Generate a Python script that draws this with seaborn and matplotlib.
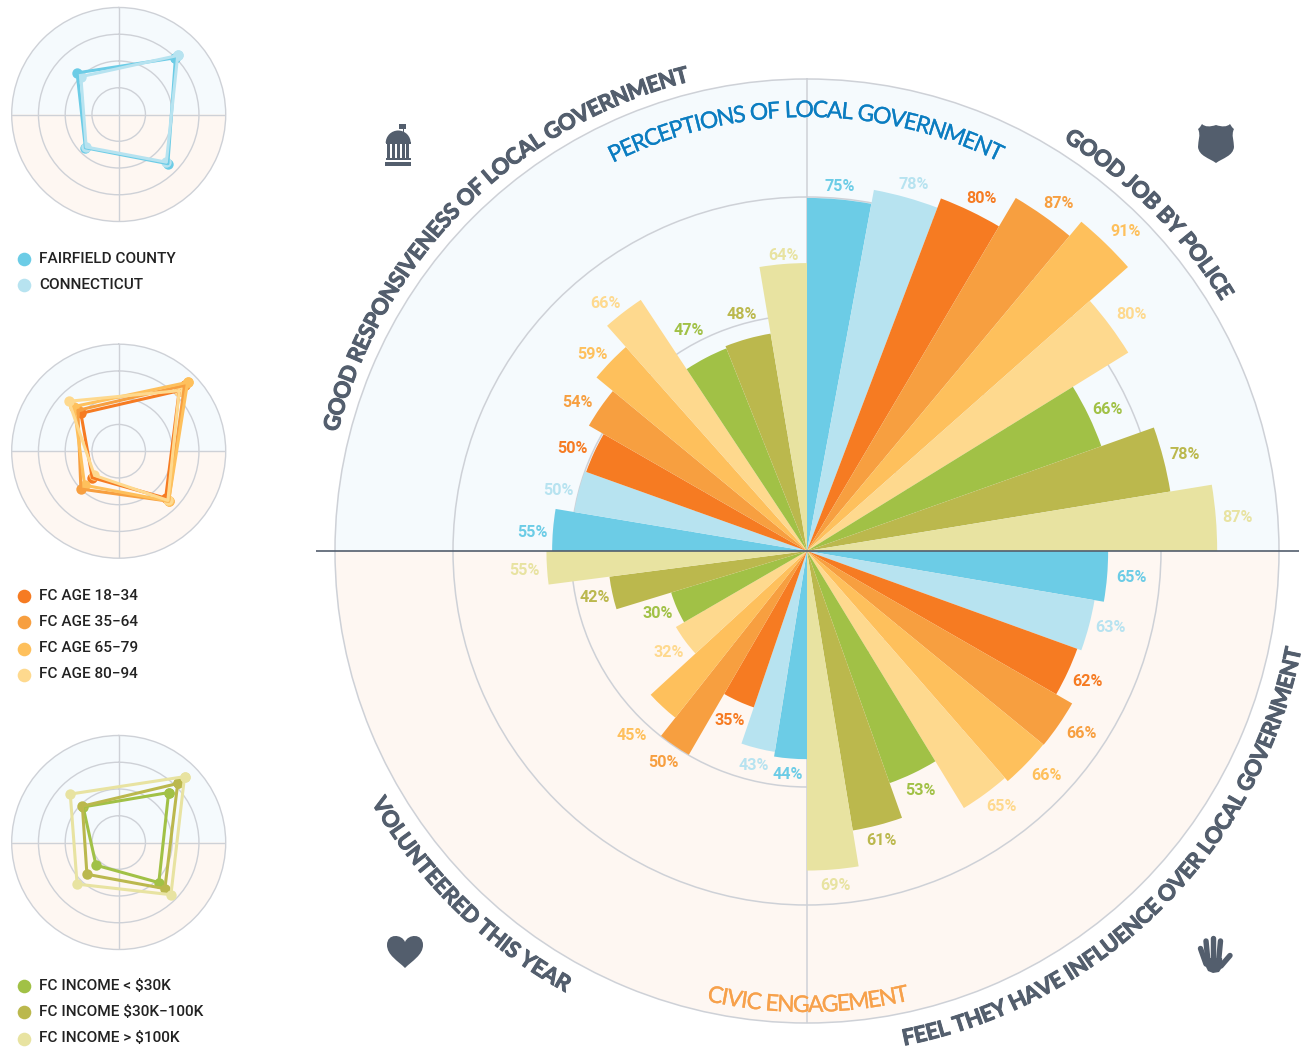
import numpy as np
import pandas as pd
import matplotlib
matplotlib.use("Agg")
import matplotlib.pyplot as plt
import matplotlib.patheffects as pe
from matplotlib.font_manager import FontProperties
from matplotlib.patches import Polygon, PathPatch, Rectangle, Wedge
from matplotlib.path import Path
import seaborn as sns

# ---------- data ----------
SERIES = ["Fairfield County", "Connecticut", "FC Age 18-34", "FC Age 35-64", "FC Age 65-79",
          "FC Age 80-94", "FC Income < $30K", "FC Income $30K-100K", "FC Income > $100K"]
COLORS = ["#6CCCE6", "#B7E3F0", "#F67B22", "#F79F40", "#FEC05C", "#FED98E", "#A1C146", "#BBB84D", "#E8E3A1"]
# printed percentages
POLICE = [75, 78, 80, 87, 91, 80, 66, 78, 87]
INFLUENCE = [65, 63, 62, 66, 66, 65, 53, 61, 69]
VOLUNTEER = [44, 43, 35, 50, 45, 32, 30, 42, 55]
RESPONSIVE = [55, 50, 50, 54, 59, 66, 47, 48, 64]
# bar lengths as drawn in the picture
POLICE_BAR = [74.8, 77.8, 79.9, 86.9, 90.8, 80, 66.2, 78, 86.9]
INFLUENCE_BAR = [63.8, 61.8, 60.9, 64.8, 64.7, 63.8, 52.2, 60, 67.7]
VOLUNTEER_BAR = [44.1, 43.1, 35, 49.9, 45, 32.1, 30.1, 42.2, 55.2]
RESPONSIVE_BAR = [54, 50, 49.7, 53.3, 57.8, 63.8, 46.2, 46.7, 61]
# wedge boundaries inside each quadrant, in degrees clockwise (layout)
POLICE_EDGES = [0, 10.5, 20.8, 30.6, 39.8, 48.5, 58.3, 70.4, 80.7, 90]
INFLUENCE_EDGES = [0, 9.7, 19.9, 29.9, 39.3, 48.9, 58.6, 70.4, 80.7, 90]
VOLUNTEER_EDGES = [0, 9.1, 18.8, 30.1, 38.3, 47.4, 59.9, 73, 82.6, 90]
RESPONSIVE_EDGES = [0, 9.5, 19.7, 29.9, 39.5, 48.4, 56.5, 68.3, 80.5, 90]
# small label nudges in pixels, right and down (layout)
POLICE_NUDGE = [(-1, 2), (3, 3), (3, 3), (4, 3), (6, 2), (5, 1), (-1, 3), (0, 1), (-1, 2)]
INFLUENCE_NUDGE = [(2, -1), (0, -4), (0, 0), (5, -3), (6, -2), (5, -3), (0, 1), (0, -1), (1, 1)]
VOLUNTEER_NUDGE = [(-2, 1), (0, 1), (-2, 3), (-1, 1), (-17, 14), (1, -1), (1, -3), (4, 0), (0, 1)]
RESPONSIVE_NUDGE = [(2, 4), (1, 5), (-2, 5), (-5, 7), (-4, 7), (-6, 7), (-9, -11), (-2, -8), (2, 6)]
LEGEND_1 = ["FAIRFIELD COUNTY", "CONNECTICUT"]
LEGEND_2 = ["FC AGE 18\u221234", "FC AGE 35\u221264", "FC AGE 65\u221279", "FC AGE 80\u221294"]
LEGEND_3 = ["FC INCOME < $30K", "FC INCOME $30K\u2212100K", "FC INCOME > $100K"]

DARK = "#535E6D"
RING = "#CED1D7"
BG_TOP = "#F5FAFD"
BG_BOT = "#FEF7F2"
W, H = 1307, 1049
ARC_FONT = ["Lato", "Roboto"]

sns.set_theme(style="white")
plt.rcParams["font.family"] = ["Roboto", "DejaVu Sans"]
fig = plt.figure(figsize=(W / 100, H / 100), dpi=100, facecolor="white")


def polar_axes(cx, cy, r):
    ax = fig.add_axes([(cx - r) / W, (H - cy - r) / H, 2 * r / W, 2 * r / H], projection="polar")
    ax.set_theta_zero_location("N")
    ax.set_theta_direction(-1)
    ax.set_facecolor("none")
    ax.set_axisbelow(True)
    ax.bar([0], [100], width=np.pi, color=BG_TOP, zorder=0.2, linewidth=0)
    ax.bar([np.pi], [100], width=np.pi, color=BG_BOT, zorder=0.2, linewidth=0)
    return ax


def finish_axes(ax, thetas, lw):
    ax.set_ylim(0, 100)
    ax.set_xticks(np.deg2rad(thetas))
    ax.set_yticks([25, 50, 75])
    ax.set_xticklabels([])
    ax.set_yticklabels([])
    ax.tick_params(length=0)
    ax.grid(True, color=RING, linewidth=lw)
    ax.spines["polar"].set_color(RING)
    ax.spines["polar"].set_linewidth(lw)
    ax.set_xlabel("")
    ax.set_ylabel("")


# ---------- main rose ----------
main = polar_axes(807, 551, 472)
quadrants = [(VOLUNTEER, VOLUNTEER_BAR, VOLUNTEER_EDGES, VOLUNTEER_NUDGE, 180),
             (INFLUENCE, INFLUENCE_BAR, INFLUENCE_EDGES, INFLUENCE_NUDGE, 90),
             (POLICE, POLICE_BAR, POLICE_EDGES, POLICE_NUDGE, 0),
             (RESPONSIVE, RESPONSIVE_BAR, RESPONSIVE_EDGES, RESPONSIVE_NUDGE, 270)]
for printed, drawn, edges, nudges, start in quadrants:
    for i, (p, d, c, (nx, ny)) in enumerate(zip(printed, drawn, COLORS, nudges)):
        t = np.deg2rad(start + (edges[i] + edges[i + 1]) / 2)
        wid = np.deg2rad(edges[i + 1] - edges[i])
        df = pd.DataFrame({"theta": [t], "value": [d]})
        sns.barplot(data=df, x="theta", y="value", color=c, native_scale=True, width=wid,
                    orient="x", errorbar=None, saturation=1, linewidth=0, ax=main)
        off = 3.0 + 1.8 * abs(np.sin(t))
        main.annotate(f"{p}%", (t, d + off), xytext=(nx, -ny), textcoords="offset pixels",
                      color=c, ha="center", va="center", fontsize=11.6, fontweight="bold")
finish_axes(main, [0, 180], 1.1)

# ---------- small radars ----------
RADAR_ANGLES = [45, 135, 225, 315]


def radar(cy, idx):
    ax = polar_axes(118.7, cy, 107)
    for i in idx:
        vals = [POLICE[i], INFLUENCE[i], VOLUNTEER[i], RESPONSIVE[i]]
        sub = pd.DataFrame({"theta": np.deg2rad(RADAR_ANGLES + RADAR_ANGLES[:1]),
                            "value": vals + vals[:1]})
        sns.lineplot(data=sub, x="theta", y="value", color=COLORS[i], sort=False, estimator=None,
                     linewidth=2.2, legend=False, ax=ax)
        sns.scatterplot(data=sub, x="theta", y="value", color=COLORS[i], s=56, linewidth=0,
                        legend=False, ax=ax, clip_on=False)
    finish_axes(ax, [0, 90, 180, 270], 1.0)
    return ax


radar(114.5, [0, 1])
radar(451.2, [2, 3, 4, 5])
radar(842.5, [6, 7, 8])

# ---------- overlay in pixels ----------
ov = fig.add_axes([0, 0, 1, 1], zorder=10)
ov.set_xlim(0, W)
ov.set_ylim(H, 0)
ov.axis("off")
ov.patch.set_alpha(0)
ov.plot([316, 1299], [551, 551], color=DARK, lw=1.2, solid_capstyle="butt")

renderer = fig.canvas.get_renderer()


def arc_text(text, a0, a1, r, size, color, weight="bold", stroke=0.7):
    fp = FontProperties(family=ARC_FONT, size=size, weight=weight)
    width = lambda s: renderer.get_text_width_height_descent(s, fp, False)[0]
    total = width(text)
    for k, ch in enumerate(text):
        if ch == " ":
            continue
        mid = width(text[:k + 1]) - width(ch) / 2
        a = a0 + (a1 - a0) * mid / total
        rad = np.deg2rad(a)
        x = 807 + r * np.sin(rad)
        y = 551 - r * np.cos(rad)
        rot = -a if a1 > a0 else 180 - a
        t = ov.text(x, y, ch, rotation=rot, rotation_mode="anchor", ha="center", va="baseline",
                    fontproperties=fp, color=color)
        t.set_path_effects([pe.withStroke(linewidth=stroke, foreground=color)])


arc_text("GOOD RESPONSIVENESS OF LOCAL GOVERNMENT", -75.8, -14.0, 484, 16, DARK)
arc_text("GOOD JOB BY POLICE", 32.0, 58.9, 484, 16, DARK)
arc_text("FEEL THEY HAVE INFLUENCE OVER LOCAL GOVERNMENT", 168.9, 101.2, 504, 16, DARK)
arc_text("VOLUNTEERED THIS YEAR", 240.0, 208.7, 503, 16, DARK)
arc_text("PERCEPTIONS OF LOCAL GOVERNMENT", -26.5, 26.2, 434, 16.5, "#0B7DC1", weight="normal", stroke=0.2)
arc_text("CIVIC ENGAGEMENT", 192.5, 167.2, 461, 16.5, "#F7A14B", weight="normal", stroke=0.2)


def legend(items, ys, colors):
    for lab, y, c in zip(items, ys, colors):
        ov.scatter([24], [y], s=96, color=c, linewidth=0)
        ov.text(39, y, lab, ha="left", va="center", fontsize=11.1, color="#222222",
                fontweight="medium")


legend(LEGEND_1, [259, 285], COLORS[:2])
legend(LEGEND_2, [595.5, 621.5, 648.5, 674.5], COLORS[2:6])
legend(LEGEND_3, [985.5, 1011.5, 1038.5], COLORS[6:])

# ---------- icons ----------
# courthouse
ov.add_patch(Rectangle((403, 124), 0.8, 8, color=DARK, lw=0))
ov.add_patch(Rectangle((398.5, 124), 7.5, 5, color=DARK, lw=0))
ov.add_patch(Wedge((398.2, 143), 12.5, 180, 360, color=DARK, lw=0))
for x in (387, 392, 396.5, 401.5, 406):
    ov.add_patch(Rectangle((x, 143), 3, 14.5, color=DARK, lw=0))
ov.add_patch(Rectangle((386, 142), 24.5, 2.2, color=DARK, lw=0))
ov.add_patch(Rectangle((386, 158), 24.5, 2.4, color=DARK, lw=0))
ov.add_patch(Rectangle((385, 161.5), 26, 4.5, color=DARK, lw=0))

# shield
C4 = Path.CURVE4
shield = Path(
    [(1202, 124), (1199, 129), (1198, 129), (1198, 129), (1201, 135), (1198, 141), (1198, 147),
     (1199, 156), (1209, 158), (1216, 163), (1223, 158), (1233, 156), (1234, 147),
     (1234, 141), (1231, 135), (1234, 129), (1234, 129), (1233, 129), (1230, 124),
     (1227, 127), (1222, 127), (1216, 125), (1210, 127), (1205, 127), (1202, 124)],
    [Path.MOVETO] + [C4] * 24)
ov.add_patch(PathPatch(shield, facecolor=DARK, edgecolor="none"))

# heart
heart = Path(
    [(405, 968), (398, 961), (387, 955), (387, 945), (387, 933), (402, 934), (405, 942),
     (408, 934), (423, 933), (423, 945), (423, 955), (412, 961), (405, 968)],
    [Path.MOVETO] + [C4] * 12)
ov.add_patch(PathPatch(heart, facecolor=DARK, edgecolor="none"))

# hand
for (x0, y0), (x1, y1), lw in [((1200.5, 948.5), (1206, 964), 3.9), ((1206, 941), (1208, 962), 3.9),
                               ((1213, 938), (1213, 962), 3.9), ((1220.5, 941), (1218.5, 962), 3.9),
                               ((1230, 955.5), (1221, 966), 3.9)]:
    ov.plot([x0, x1], [y0, y1], color=DARK, lw=lw, solid_capstyle="round")
ov.add_patch(Polygon([(1204, 958), (1222, 958), (1223, 966), (1219, 972), (1213, 973),
                      (1208, 971), (1205, 965)], closed=True, facecolor=DARK, edgecolor="none"))

fig.savefig("out.png", dpi=100)
